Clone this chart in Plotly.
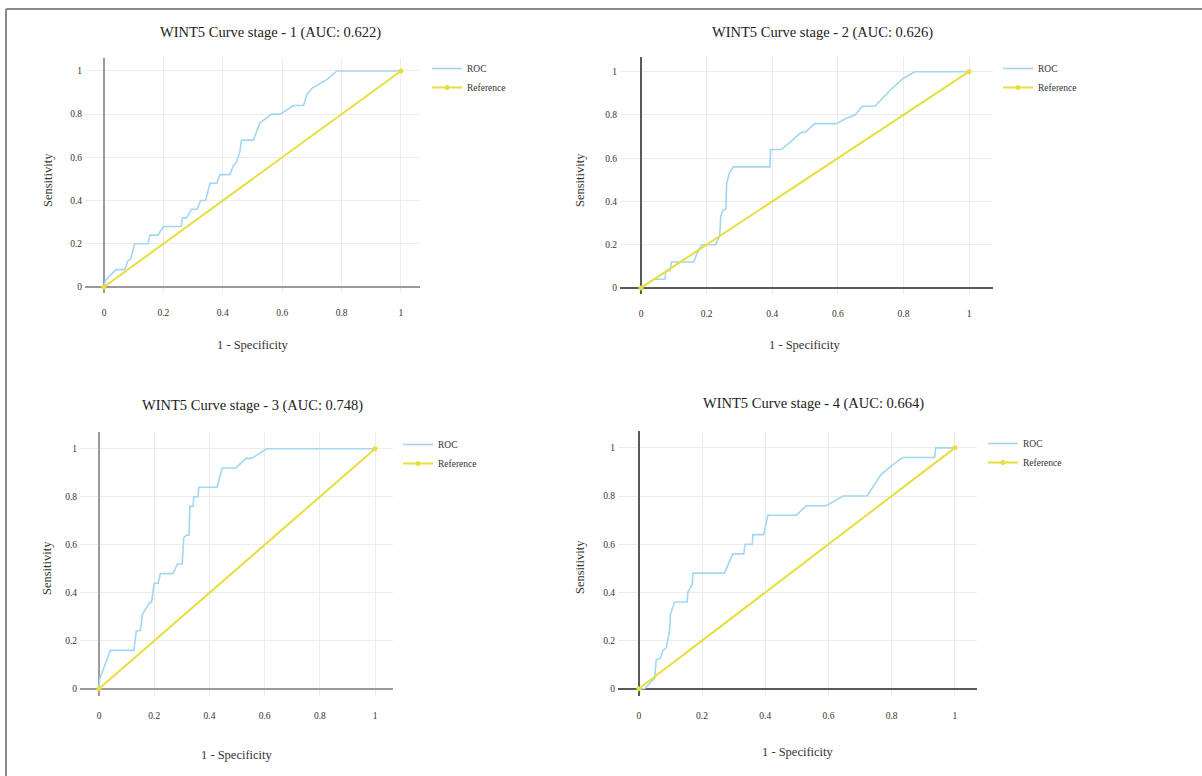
import plotly.graph_objects as go

W, H = 1202, 776

titles = ["WINT5 Curve stage - 1 (AUC: 0.622)", "WINT5 Curve stage - 2 (AUC: 0.626)",
          "WINT5 Curve stage - 3 (AUC: 0.748)", "WINT5 Curve stage - 4 (AUC: 0.664)"]
x_title = "1 - Specificity"
y_title = "Sensitivity"
tick_vals = [0, 0.2, 0.4, 0.6, 0.8, 1]
tick_text = ["0", "0.2", "0.4", "0.6", "0.8", "1"]

roc1_x = [0, 0.005, 0.04, 0.07, 0.08, 0.09, 0.103, 0.148, 0.155, 0.182, 0.2, 0.26, 0.264, 0.278, 0.295,
          0.314, 0.325, 0.342, 0.357, 0.38, 0.39, 0.424, 0.435, 0.447, 0.458, 0.463, 0.503, 0.525, 0.565,
          0.593, 0.638, 0.672, 0.683, 0.7, 0.75, 0.784, 1]
roc1_y = [0, 0.03, 0.08, 0.08, 0.12, 0.13, 0.2, 0.2, 0.24, 0.24, 0.28, 0.28, 0.32, 0.32, 0.36,
          0.36, 0.4, 0.4, 0.48, 0.48, 0.52, 0.52, 0.56, 0.58, 0.63, 0.68, 0.68, 0.76, 0.8,
          0.8, 0.84, 0.84, 0.89, 0.92, 0.96, 1, 1]

roc2_x = [0, 0.027, 0.038, 0.073, 0.076, 0.088, 0.093, 0.161, 0.168, 0.185, 0.227, 0.24, 0.243, 0.25,
          0.259, 0.261, 0.269, 0.281, 0.393, 0.395, 0.428, 0.459, 0.489, 0.5, 0.53, 0.596, 0.626, 0.652,
          0.675, 0.713, 0.763, 0.8, 0.835, 1]
roc2_y = [0, 0.03, 0.04, 0.04, 0.08, 0.08, 0.12, 0.12, 0.15, 0.2, 0.2, 0.24, 0.33, 0.36,
          0.365, 0.48, 0.53, 0.56, 0.56, 0.64, 0.64, 0.68, 0.72, 0.72, 0.76, 0.76, 0.785, 0.8,
          0.84, 0.84, 0.92, 0.97, 1, 1]

roc3_x = [0, 0.002, 0.041, 0.126, 0.135, 0.15, 0.157, 0.172, 0.184, 0.19, 0.2, 0.214, 0.222, 0.268,
          0.284, 0.301, 0.307, 0.317, 0.326, 0.329, 0.341, 0.343, 0.359, 0.361, 0.428, 0.446, 0.496,
          0.532, 0.553, 0.607, 1]
roc3_y = [0, 0.04, 0.16, 0.16, 0.24, 0.244, 0.31, 0.34, 0.36, 0.36, 0.44, 0.44, 0.48, 0.48,
          0.52, 0.52, 0.63, 0.64, 0.64, 0.76, 0.76, 0.8, 0.8, 0.84, 0.84, 0.92, 0.92,
          0.96, 0.96, 1, 1]

roc4_x = [0, 0.018, 0.05, 0.055, 0.068, 0.076, 0.087, 0.092, 0.097, 0.1, 0.113, 0.153, 0.155, 0.169,
          0.171, 0.271, 0.297, 0.332, 0.336, 0.359, 0.361, 0.395, 0.408, 0.498, 0.53, 0.593, 0.646,
          0.722, 0.767, 0.804, 0.835, 0.936, 0.939, 1]
roc4_y = [0, 0, 0.044, 0.12, 0.127, 0.16, 0.17, 0.2, 0.24, 0.31, 0.36, 0.36, 0.4, 0.435,
          0.48, 0.48, 0.56, 0.56, 0.6, 0.6, 0.64, 0.64, 0.72, 0.72, 0.76, 0.76, 0.8,
          0.8, 0.89, 0.93, 0.96, 0.96, 1, 1]

ref_x = [0, 1]
ref_y = [0, 1]

rocs = [(roc1_x, roc1_y), (roc2_x, roc2_y), (roc3_x, roc3_y), (roc4_x, roc4_y)]

# pixel boxes: (left, right, top, bottom), x range, y range
boxes = [
    dict(l=85, r=420, t=58, b=293, xr=[-0.064, 1.064], yr=[-0.028, 1.06], axc="#9a9a9a"),
    dict(l=620, r=993, t=57, b=294, xr=[-0.064, 1.073], yr=[-0.028, 1.068], axc="#5a5a5a"),
    dict(l=80, r=393, t=432, b=696, xr=[-0.069, 1.065], yr=[-0.03, 1.07], axc="#9a9a9a"),
    dict(l=618, r=977, t=431, b=696, xr=[-0.066, 1.07], yr=[-0.03, 1.07], axc="#5a5a5a"),
]
title_pos = [(270, 33), (823, 33), (252, 405), (813, 403)]
xt_pos = [(253, 345), (805, 345), (237, 755), (798, 752)]
yt_pos = [(48, 180), (580, 180), (47, 568), (580, 567)]
leg_pos = [(427, 54), (998, 54), (398, 430), (983, 429)]

SERIF = "Liberation Serif, Times New Roman, serif"
ROC_COLOR = "#a3d6f2"
REF_COLOR = "#e6df3c"

fig = go.Figure()
annotations = []
layout = dict(width=W, height=H, margin=dict(l=0, r=0, t=0, b=0),
              paper_bgcolor="white", plot_bgcolor="white", font=dict(family=SERIF, color="#333"))

for i, (b, (rx, ry)) in enumerate(zip(boxes, rocs)):
    n = "" if i == 0 else str(i + 1)
    leg = "legend" + n
    fig.add_trace(go.Scatter(x=rx, y=ry, mode="lines", name="ROC",
                             line=dict(color=ROC_COLOR, width=1.6),
                             xaxis="x" + n, yaxis="y" + n, legend=leg))
    fig.add_trace(go.Scatter(x=ref_x, y=ref_y, mode="lines+markers", name="Reference",
                             line=dict(color=REF_COLOR, width=2),
                             marker=dict(color=REF_COLOR, size=5),
                             xaxis="x" + n, yaxis="y" + n, legend=leg))
    layout["xaxis" + n] = dict(domain=[b["l"] / W, b["r"] / W], range=b["xr"], anchor="y" + n,
                               tickvals=tick_vals, ticktext=tick_text, showgrid=True,
                               gridcolor="#ececec", gridwidth=1, zeroline=True,
                               zerolinecolor=b["axc"], zerolinewidth=2, showline=False,
                               ticks="", ticklabelstandoff=12,
                               tickfont=dict(size=9.5, family=SERIF, color="#333"))
    layout["yaxis" + n] = dict(domain=[1 - b["b"] / H, 1 - b["t"] / H], range=b["yr"], anchor="x" + n,
                               tickvals=tick_vals, ticktext=tick_text, showgrid=True,
                               gridcolor="#ececec", gridwidth=1, zeroline=True,
                               zerolinecolor=b["axc"], zerolinewidth=2, showline=False,
                               ticks="", ticklabelstandoff=2,
                               tickfont=dict(size=9.5, family=SERIF, color="#333"))
    lx, ly = leg_pos[i]
    layout[leg] = dict(x=lx / W, y=1 - ly / H, xanchor="left", yanchor="top",
                       bgcolor="rgba(0,0,0,0)", font=dict(size=9.5, family=SERIF, color="#333"),
                       tracegroupgap=0, itemwidth=30)
    tx, ty = title_pos[i]
    annotations.append(dict(text=titles[i], x=tx / W, y=1 - ty / H, xref="paper", yref="paper",
                            showarrow=False, xanchor="center", yanchor="middle",
                            font=dict(size=14.5, family=SERIF, color="#222")))
    ax_, ay_ = xt_pos[i]
    annotations.append(dict(text=x_title, x=ax_ / W, y=1 - ay_ / H, xref="paper", yref="paper",
                            showarrow=False, xanchor="center", yanchor="middle",
                            font=dict(size=12.5, family=SERIF, color="#333")))
    bx, by = yt_pos[i]
    annotations.append(dict(text=y_title, x=bx / W, y=1 - by / H, xref="paper", yref="paper",
                            showarrow=False, xanchor="center", yanchor="middle", textangle=-90,
                            font=dict(size=12.5, family=SERIF, color="#333")))

layout["annotations"] = annotations
layout["shapes"] = [
    dict(type="line", xref="paper", yref="paper", x0=6 / W, x1=1, y0=1 - 9 / H, y1=1 - 9 / H,
         line=dict(color="#8a8a8a", width=2)),
    dict(type="line", xref="paper", yref="paper", x0=6 / W, x1=6 / W, y0=1 - 9 / H, y1=0,
         line=dict(color="#8a8a8a", width=2)),
]
layout["showlegend"] = True
fig.update_layout(**layout)
fig.write_html("out.html")
